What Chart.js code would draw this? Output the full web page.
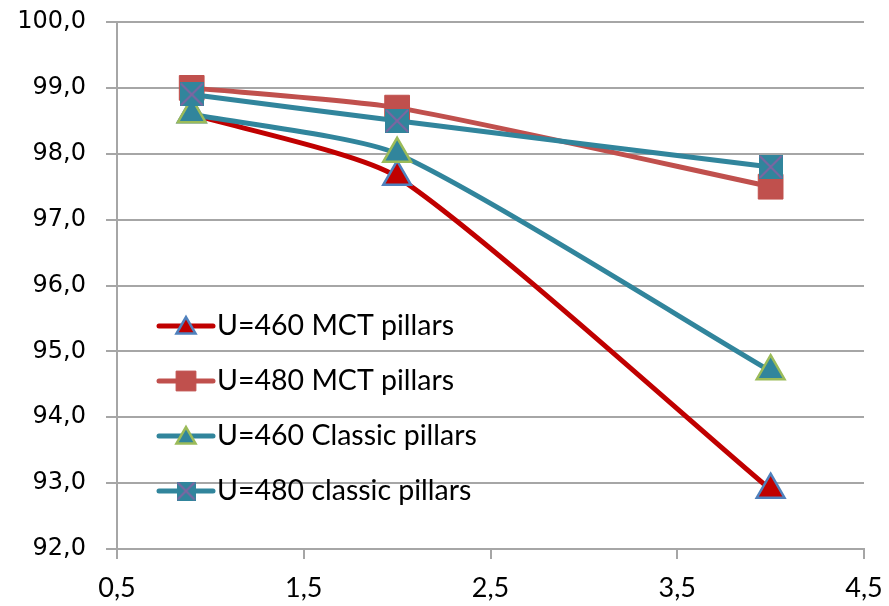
<!DOCTYPE html>
<html>
<head>
<meta charset="utf-8">
<script src="https://cdn.jsdelivr.net/npm/chart.js@4.4.0/dist/chart.umd.min.js"></script>
<style>
  html, body { margin: 0; padding: 0; background: #fff; }
  #wrap { width: 889px; height: 606px; }
</style>
</head>
<body>
<div id="wrap"><canvas id="chart" width="889" height="606"></canvas></div>
<script>
// データ
const xValues = [0.9, 2.0, 4.0];
const u460Mct = [98.6, 97.65, 92.9];
const u480Mct = [99.0, 98.7, 97.5];
const u460Classic = [98.6, 98.0, 94.7];
const u480Classic = [98.9, 98.5, 97.8];
const seriesNames = ["U=460 MCT pillars", "U=480 MCT pillars", "U=460 Classic pillars", "U=480 classic pillars"];
const xTicks = [0.5, 1.5, 2.5, 3.5, 4.5];
const yMin = 92, yMax = 100, yStep = 1;

const GRID = "#a6a6a6";

// 四角にバツ印のマーカー（canvasで作る）
function makeSquareX(size) {
  const c = document.createElement("canvas");
  c.width = size; c.height = size;
  const g = c.getContext("2d");
  g.fillStyle = "#31859C";
  g.fillRect(0, 0, size, size);
  g.strokeStyle = "#8064A2";
  g.lineWidth = 2;
  g.beginPath();
  g.moveTo(1, 1); g.lineTo(size - 1, size - 1);
  g.moveTo(size - 1, 1); g.lineTo(1, size - 1);
  g.stroke();
  return c;
}
const squareXBig = makeSquareX(24);
const squareXSmall = makeSquareX(19);

function pts(ys) {
  return xValues.map((x, i) => ({ x: x, y: ys[i] }));
}

const datasets = [
  { label: seriesNames[0], data: pts(u460Mct), borderColor: "#C00000", backgroundColor: "#C00000",
    pointStyle: "triangle", pointRadius: 16, pointBorderColor: "#4F81BD", pointBorderWidth: 2.5, order: 4,
    legendStyle: "triangle", legendRadius: 11 },
  { label: seriesNames[1], data: pts(u480Mct), borderColor: "#C0504D", backgroundColor: "#C0504D",
    pointStyle: "rect", pointRadius: 17.5, pointBorderColor: "#C0504D", pointBorderWidth: 1, order: 3,
    legendStyle: "rect", legendRadius: 14 },
  { label: seriesNames[2], data: pts(u460Classic), borderColor: "#31859C", backgroundColor: "#31859C",
    pointStyle: "triangle", pointRadius: 16, pointBorderColor: "#9BBB59", pointBorderWidth: 2.5, order: 2,
    legendStyle: "triangle", legendRadius: 11 },
  { label: seriesNames[3], data: pts(u480Classic), borderColor: "#31859C", backgroundColor: "#31859C",
    pointStyle: squareXBig, pointRadius: 12, pointBorderColor: "#31859C", pointBorderWidth: 1, order: 1,
    legendStyle: squareXSmall, legendRadius: 10 },
];
datasets.forEach(d => {
  d.borderWidth = 5;
  d.tension = 0.2;
  d.pointBackgroundColor = d.backgroundColor;
  d.pointHoverRadius = d.pointRadius;
  d.fill = false;
  d.clip = false;
});

// グラフ内に凡例を描くプラグイン
const insideLegend = {
  id: "insideLegend",
  afterDraw(chart) {
    const ctx = chart.ctx;
    const area = chart.chartArea;
    const x0 = area.left + 42;
    const x1 = x0 + 54;
    const top = 326;
    const gap = 55;
    ctx.save();
    chart.data.datasets.forEach((ds, i) => {
      const y = top + i * gap;
      ctx.strokeStyle = ds.borderColor;
      ctx.lineWidth = 5;
      ctx.lineCap = "round";
      ctx.beginPath();
      ctx.moveTo(x0, y);
      ctx.lineTo(x1, y);
      ctx.stroke();
      ctx.fillStyle = ds.pointBackgroundColor;
      ctx.strokeStyle = ds.pointBorderColor;
      ctx.lineWidth = ds.pointBorderWidth;
      ctx.lineCap = "butt";
      const cy = ds.legendStyle === "triangle" ? y + 2 : y;
      Chart.helpers.drawPoint(ctx, { pointStyle: ds.legendStyle, rotation: 0, radius: ds.legendRadius, borderWidth: ds.pointBorderWidth }, (x0 + x1) / 2, cy);
      ctx.fillStyle = "#000";
      ctx.font = "28.5px Lato, 'Open Sans', sans-serif";
      ctx.textBaseline = "middle";
      ctx.textAlign = "left";
      ctx.fillText(ds.label, x1 + 4, y);
    });
    ctx.restore();
  }
};

const ctx = document.getElementById("chart").getContext("2d");
new Chart(ctx, {
  type: "line",
  data: { datasets },
  plugins: [insideLegend],
  options: {
    responsive: false,
    animation: false,
    layout: { autoPadding: false, padding: { top: 22, right: 25, left: 0, bottom: 0 } },
    plugins: { legend: { display: false }, tooltip: { enabled: false } },
    scales: {
      x: {
        type: "linear",
        min: xTicks[0],
        max: xTicks[xTicks.length - 1],
        afterBuildTicks: (scale) => { scale.ticks = xTicks.map(v => ({ value: v })); },
        afterFit: (scale) => { scale.height = 57; scale.paddingLeft = 0; scale.paddingRight = 0; },
        grid: { drawOnChartArea: false, drawTicks: true, tickLength: 10, color: GRID, lineWidth: 2 },
        border: { color: GRID, width: 2 },
        ticks: {
          color: "#000",
          padding: 13,
          maxRotation: 0,
          font: { family: "Lato, sans-serif", size: 27 },
          callback: (v) => Number(v).toFixed(1).replace(".", ",")
        }
      },
      y: {
        min: yMin,
        max: yMax,
        // ラベルの余白で上端が下がらないようにする
        afterFit: (scale) => { scale.width = 117; scale.paddingTop = 0; scale.paddingBottom = 0; },
        grid: { color: GRID, lineWidth: 2, tickLength: 11, drawTicks: true },
        border: { color: GRID, width: 2 },
        ticks: {
          stepSize: yStep,
          color: "#000",
          padding: 20,
          font: { family: "'DejaVu Sans', Verdana, sans-serif", size: 24 },
          callback: (v) => Number(v).toFixed(1).replace(".", ",")
        }
      }
    }
  }
});
</script>
</body>
</html>
